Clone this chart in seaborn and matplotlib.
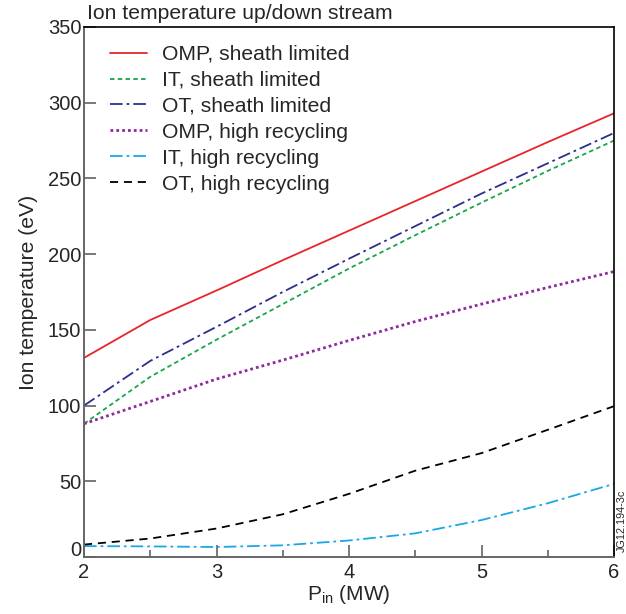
import matplotlib
matplotlib.use("Agg")
import matplotlib.pyplot as plt
import matplotlib.transforms as mtransforms
import seaborn as sns
import pandas as pd
from matplotlib.ticker import MultipleLocator

p_in = [2, 2.5, 3, 3.5, 4, 4.5, 5, 5.5, 6]
omp_sheath = [131.5, 156.5, 176, 196, 215.5, 235, 254.5, 274, 293]
it_sheath = [88, 119, 143.5, 167, 190.5, 212.5, 234, 255, 275]
ot_sheath = [100, 129.5, 152, 175, 197, 218.5, 240, 260, 280]
omp_recyc = [88, 102.7, 117.5, 130, 143, 155.5, 167, 178, 188.5]
it_recyc = [7.2, 7.0, 6.6, 7.7, 10.9, 15.6, 24.4, 35.5, 48.3]
ot_recyc = [8.2, 12.2, 18.8, 28.2, 41.7, 57, 68.6, 84, 99.6]

labels = ["OMP, sheath limited", "IT, sheath limited", "OT, sheath limited",
          "OMP, high recycling", "IT, high recycling", "OT, high recycling"]
series = [omp_sheath, it_sheath, ot_sheath, omp_recyc, it_recyc, ot_recyc]
colors = ["#e8242a", "#17a64a", "#2b2f8c", "#8e2a9e", "#1aa7e8", "#000000"]
styles = ["-", (0, (2.5, 1.8)), (0, (7, 2.2, 1.5, 2.2)), (0, (1, 1.1)),
          (0, (7, 2.2, 1.5, 2.2)), (0, (4.5, 3.2))]
widths = [1.3, 1.3, 1.3, 2.0, 1.3, 1.3]

sns.set_style("ticks")
plt.rcParams['font.family'] = ['Liberation Sans', 'DejaVu Sans']

fig = plt.figure(figsize=(6.26, 6.14), dpi=100)
ax = fig.add_axes([84 / 626, 1 - 557 / 614, 530 / 626, 530 / 614])

df = pd.DataFrame({"P": p_in * len(series),
                   "T": sum(series, []),
                   "case": sum([[l] * len(p_in) for l in labels], [])})
for lab, col, ls, lw in zip(labels, colors, styles, widths):
    sub = df[df["case"] == lab]
    sns.lineplot(data=sub, x="P", y="T", ax=ax, color=col, linestyle=ls,
                 linewidth=lw, label=lab)

ax.set_xlim(2, 6)
ax.set_ylim(0, 350)
ax.xaxis.set_major_locator(MultipleLocator(1))
ax.xaxis.set_minor_locator(MultipleLocator(0.5))
ax.set_yticks([0, 50, 100, 150, 200, 250, 300, 350])
ax.tick_params(axis='both', which='major', direction='in', length=8.6, width=1.1,
               color='#555555', labelsize=14.5)
ax.tick_params(axis='x', which='major', pad=4)
ax.tick_params(axis='y', which='major', pad=2)
ax.tick_params(axis='x', which='minor', direction='in', length=5, width=1.1, color='#555555')
for s in ['left', 'bottom']:
    ax.spines[s].set_color('#666666')
    ax.spines[s].set_linewidth(1.4)
for s in ['top', 'right']:
    ax.spines[s].set_visible(True)
    ax.spines[s].set_color('black')
    ax.spines[s].set_linewidth(1.2)

ax.set_xlabel("P$_{\\mathregular{in}}$ (MW)", fontsize=15, labelpad=1)
ax.set_ylabel("Ion temperature (eV)", fontsize=15.2, labelpad=7)
ax.text(0.006, 1.008, "Ion temperature up/down stream", transform=ax.transAxes,
        fontsize=15.2, ha='left', va='bottom')

leg = ax.legend(loc='upper left', bbox_to_anchor=(0.018, 0.998), frameon=False,
                fontsize=15.2, handlelength=1.75, handletextpad=0.7,
                labelspacing=0.33, borderaxespad=0.4)

fig.canvas.draw()
lbl0 = ax.yaxis.get_major_ticks()[0].label1
lbl0.set_transform(lbl0.get_transform() +
                   mtransforms.ScaledTranslation(0, 6 / 72, fig.dpi_scale_trans))

fig.text(0.9936, 0.151, "JG12.194-3c", rotation=90, fontsize=7.8,
         ha='center', va='center')

fig.savefig("out.png", dpi=100)
